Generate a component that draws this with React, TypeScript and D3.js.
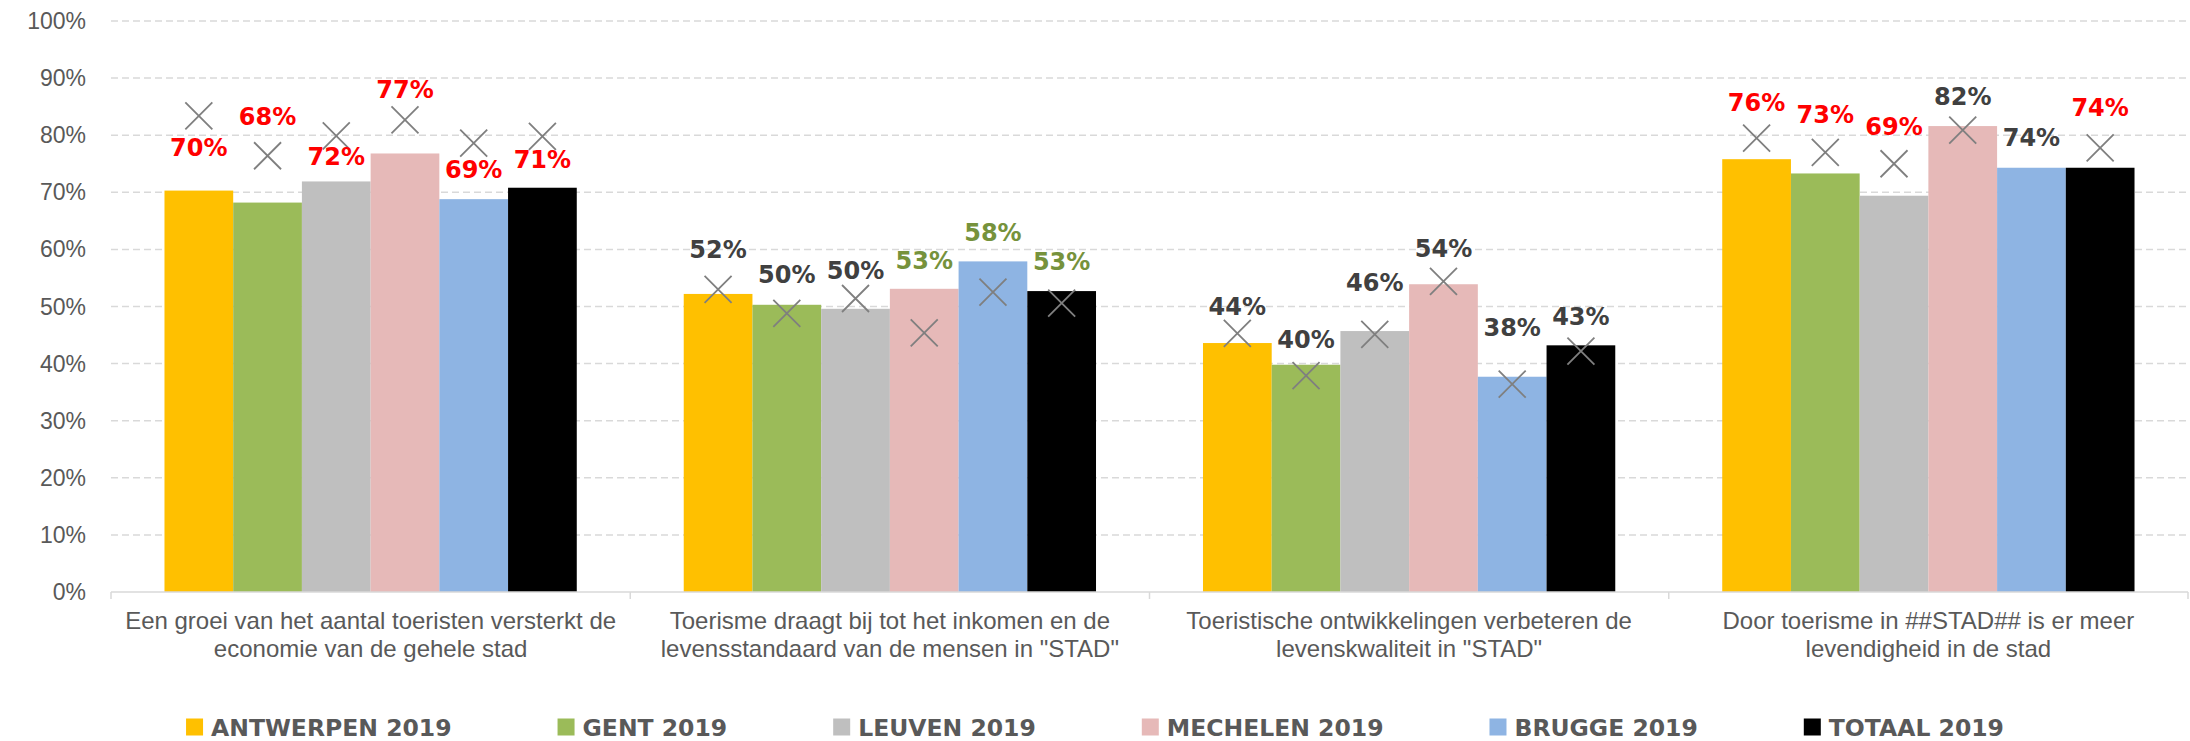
import React, { useRef, useEffect } from 'react';
import * as d3 from 'd3';

const vragen: string[][] = [
  ['Een groei van het aantal toeristen versterkt de', 'economie van de gehele stad'],
  ['Toerisme draagt bij tot het inkomen en de', 'levensstandaard van de mensen in "STAD"'],
  ['Toeristische ontwikkelingen verbeteren de', 'levenskwaliteit in "STAD"'],
  ['Door toerisme in ##STAD## is er meer', 'levendigheid in de stad'],
];

const steden = ['ANTWERPEN 2019', 'GENT 2019', 'LEUVEN 2019', 'MECHELEN 2019', 'BRUGGE 2019', 'TOTAAL 2019'];
const kleuren = ['#FFC000', '#9BBB59', '#BFBFBF', '#E6B9B8', '#8EB4E3', '#000000'];

// scores 2019 (balken)
const antwerpen = [0.703, 0.522, 0.436, 0.758];
const gent = [0.682, 0.503, 0.398, 0.733];
const leuven = [0.719, 0.496, 0.457, 0.694];
const mechelen = [0.768, 0.531, 0.539, 0.816];
const brugge = [0.688, 0.579, 0.377, 0.743];
const totaal = [0.708, 0.527, 0.432, 0.743];

// vorige meting (kruisjes)
const antwerpenVorig = [0.834, 0.530, 0.453, 0.795];
const gentVorig = [0.764, 0.488, 0.379, 0.770];
const leuvenVorig = [0.799, 0.514, 0.451, 0.750];
const mechelenVorig = [0.827, 0.454, 0.544, 0.809];
const bruggeVorig: (number | null)[] = [0.786, 0.525, 0.364, null];
const totaalVorig = [0.798, 0.506, 0.422, 0.778];

// evolutie t.o.v. vorige meting: 'daling' | 'stijging' | 'gelijk'
const antwerpenEvol = ['daling', 'gelijk', 'gelijk', 'daling'];
const gentEvol = ['daling', 'gelijk', 'gelijk', 'daling'];
const leuvenEvol = ['daling', 'gelijk', 'gelijk', 'daling'];
const mechelenEvol = ['daling', 'stijging', 'gelijk', 'gelijk'];
const bruggeEvol = ['daling', 'stijging', 'gelijk', 'gelijk'];
const totaalEvol = ['daling', 'stijging', 'gelijk', 'daling'];

// hoogte waarop Excel de labels plaatste (op de waarde-as)
const antwerpenLabel = [0.779, 0.600, 0.501, 0.858];
const gentLabel = [0.833, 0.556, 0.443, 0.837];
const leuvenLabel = [0.763, 0.564, 0.542, 0.816];
const mechelenLabel = [0.881, 0.581, 0.601, 0.868];
const bruggeLabel = [0.740, 0.629, 0.463, 0.796];
const totaalLabel = [0.758, 0.579, 0.483, 0.849];

const yTicks = [0, 0.1, 0.2, 0.3, 0.4, 0.5, 0.6, 0.7, 0.8, 0.9, 1];

const scores = [antwerpen, gent, leuven, mechelen, brugge, totaal];
const vorig = [antwerpenVorig, gentVorig, leuvenVorig, mechelenVorig, bruggeVorig, totaalVorig];
const evol = [antwerpenEvol, gentEvol, leuvenEvol, mechelenEvol, bruggeEvol, totaalEvol];
const labels = [antwerpenLabel, gentLabel, leuvenLabel, mechelenLabel, bruggeLabel, totaalLabel];

const evolKleur: Record<string, string> = { daling: '#FF0000', stijging: '#76923C', gelijk: '#404040' };

interface Cel {
  vraag: number;
  stad: number;
  waarde: number;
  vorig: number | null;
  evol: string;
  label: number;
}

const App: React.FC = () => {
  const svgRef = useRef<SVGSVGElement | null>(null);

  useEffect(() => {
    if (!svgRef.current) return;
    const width = 2190;
    const height = 741;
    const svg = d3.select<SVGSVGElement, unknown>(svgRef.current)
      .attr('width', width)
      .attr('height', height);
    svg.selectAll('*').remove();

    const y = d3.scaleLinear().domain([0, 1]).range([592, 21]);
    const x0 = d3.scaleBand<number>()
      .domain(vragen.map((_, i) => i))
      .range([111, 2188])
      .paddingInner(0.206)
      .paddingOuter(0.103);
    const x1 = d3.scaleBand<number>()
      .domain(steden.map((_, i) => i))
      .range([0, x0.bandwidth()]);
    const stap = x0.step();
    const [xStart, xEind] = x0.range();

    const cellen: Cel[] = [];
    vragen.forEach((_, v) => {
      steden.forEach((_, s) => {
        cellen.push({
          vraag: v,
          stad: s,
          waarde: scores[s][v],
          vorig: vorig[s][v],
          evol: evol[s][v],
          label: labels[s][v],
        });
      });
    });

    // rasterlijnen
    svg.append('g')
      .selectAll('line')
      .data(yTicks.filter((t) => t > 0))
      .enter().append('line')
      .attr('x1', xStart)
      .attr('x2', xEind)
      .attr('y1', (d) => y(d))
      .attr('y2', (d) => y(d))
      .attr('stroke', '#D9D9D9')
      .attr('stroke-width', 1.5)
      .attr('stroke-dasharray', '7 4');

    // y-as labels
    svg.append('g')
      .selectAll('text')
      .data(yTicks)
      .enter().append('text')
      .attr('x', 86)
      .attr('y', (d) => y(d))
      .attr('dy', '0.35em')
      .attr('text-anchor', 'end')
      .text((d) => d3.format('.0%')(d))
      .style('fill', '#595959')
      .style('font-family', 'Arial, "Liberation Sans", sans-serif')
      .style('font-size', '23px');

    // balken
    svg.append('g')
      .selectAll('rect')
      .data(cellen)
      .enter().append('rect')
      .attr('x', (d) => (x0(d.vraag) || 0) + (x1(d.stad) || 0))
      .attr('y', (d) => y(d.waarde))
      .attr('width', x1.bandwidth())
      .attr('height', (d) => y(0) - y(d.waarde))
      .attr('fill', (d) => kleuren[d.stad]);

    // x-as
    const as = svg.append('g');
    as.append('line')
      .attr('x1', xStart)
      .attr('x2', xEind)
      .attr('y1', y(0))
      .attr('y2', y(0))
      .attr('stroke', '#D9D9D9')
      .attr('stroke-width', 1.5);
    as.selectAll('line.tick')
      .data(d3.range(vragen.length + 1))
      .enter().append('line')
      .attr('class', 'tick')
      .attr('x1', (i) => xStart + i * stap)
      .attr('x2', (i) => xStart + i * stap)
      .attr('y1', y(0))
      .attr('y2', y(0) + 7)
      .attr('stroke', '#D9D9D9')
      .attr('stroke-width', 1.5);

    const cat = svg.append('g')
      .selectAll('text')
      .data(vragen)
      .enter().append('text')
      .attr('text-anchor', 'middle')
      .style('fill', '#595959')
      .style('font-family', 'Arial, "Liberation Sans", sans-serif')
      .style('font-size', '24px');
    cat.selectAll('tspan')
      .data((d, i) => d.map((regel) => ({ regel, i })))
      .enter().append('tspan')
      .attr('x', (d) => (x0(d.i) || 0) + x0.bandwidth() / 2)
      .attr('y', (_, j) => 629 + j * 28)
      .text((d) => d.regel);

    // kruisjes vorige meting
    const k = 13.5;
    svg.append('g')
      .selectAll('path')
      .data(cellen.filter((d) => d.vorig !== null))
      .enter().append('path')
      .attr('transform', (d) => `translate(${(x0(d.vraag) || 0) + (x1(d.stad) || 0) + x1.bandwidth() / 2},${y(d.vorig as number)})`)
      .attr('d', `M${-k},${-k}L${k},${k}M${-k},${k}L${k},${-k}`)
      .attr('stroke', '#7F7F7F')
      .attr('stroke-width', 1.8)
      .attr('fill', 'none');

    // datalabels
    svg.append('g')
      .selectAll('text')
      .data(cellen)
      .enter().append('text')
      .attr('x', (d) => (x0(d.vraag) || 0) + (x1(d.stad) || 0) + x1.bandwidth() / 2)
      .attr('y', (d) => y(d.label))
      .attr('dy', '0.36em')
      .attr('text-anchor', 'middle')
      .text((d) => `${Math.round(d.waarde * 100)}%`)
      .style('fill', (d) => evolKleur[d.evol])
      .style('font-family', '"DejaVu Sans", sans-serif')
      .style('font-weight', 'bold')
      .style('font-size', '24px');

    // legende
    const leg = svg.append('g');
    const items = leg.selectAll<SVGGElement, string>('g')
      .data(steden)
      .enter().append('g');
    items.append('rect')
      .attr('x', 0)
      .attr('y', -8.5)
      .attr('width', 17)
      .attr('height', 17)
      .attr('fill', (_, i) => kleuren[i]);
    items.append('text')
      .attr('x', 25)
      .attr('y', 8.5)
      .text((d) => d)
      .style('fill', '#595959')
      .style('font-family', '"DejaVu Sans", sans-serif')
      .style('font-weight', 'bold')
      .style('font-size', '23.5px');

    const breedtes: number[] = [];
    items.each(function () {
      const t = d3.select(this).select<SVGTextElement>('text').node();
      breedtes.push(25 + (t ? t.getComputedTextLength() : 0));
    });
    const tussen = 106;
    const totaalBreedte = d3.sum(breedtes) + tussen * (breedtes.length - 1);
    let xPos = (width - totaalBreedte) / 2;
    items.attr('transform', (_, i) => {
      const tr = `translate(${xPos},727)`;
      xPos += breedtes[i] + tussen;
      return tr;
    });
  }, []);

  return (
    <svg ref={svgRef} style={{ position: 'absolute', left: 0, top: 0, background: '#fff' }}></svg>
  );
};

export default App;
